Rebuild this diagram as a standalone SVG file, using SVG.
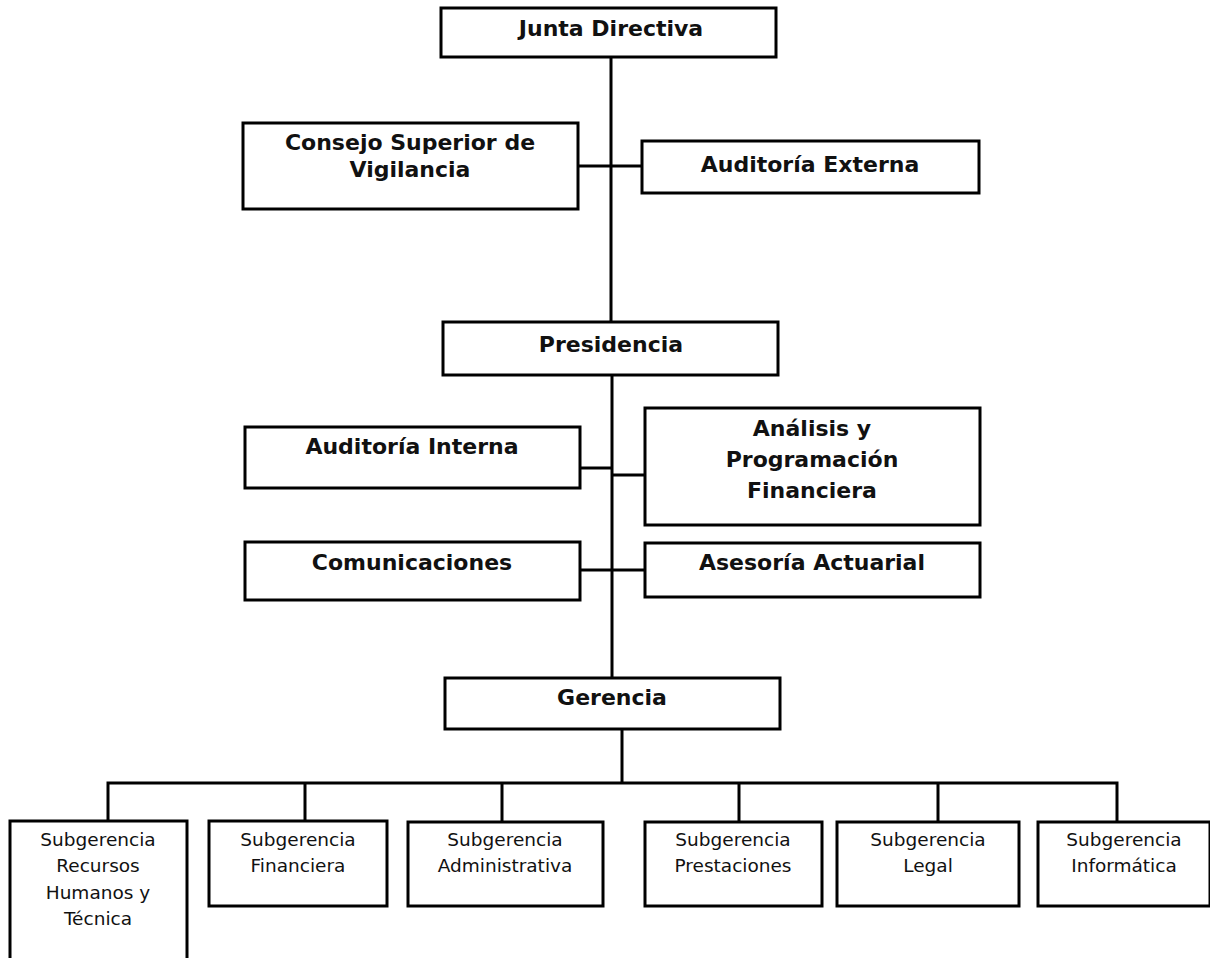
<svg xmlns="http://www.w3.org/2000/svg" width="1210" height="958" viewBox="0 0 1210 958">
<style>
.box{fill:#fff;stroke:#000;stroke-width:3}
.b{font-family:"DejaVu Sans","Verdana",sans-serif;font-weight:bold;font-size:22px;fill:#111;text-anchor:middle}
.r{font-family:"DejaVu Sans","Verdana",sans-serif;font-size:18.5px;fill:#111;text-anchor:middle}
.ln{fill:none;stroke:#000;stroke-width:3}
</style>
<rect width="1210" height="958" fill="#fff"/>
<g id="connectors">
<path class="ln" d="M611 57V322"/>
<path class="ln" d="M578 166H642"/>
<path class="ln" d="M612 375V678"/>
<path class="ln" d="M580 468H612"/>
<path class="ln" d="M612 475H645"/>
<path class="ln" d="M580 570H645"/>
<path class="ln" d="M622 729V783"/>
<path class="ln" d="M108 821V783H1117V821"/>
<path class="ln" d="M305 783V821M502 783V821M739 783V821M938 783V821"/>
</g>
<g id="junta"><rect class="box" x="441" y="8" width="335" height="49"/><text class="b" x="611" y="36">Junta Directiva</text></g>
<g id="consejo"><rect class="box" x="243" y="123" width="335" height="86"/><text class="b" x="410" y="150">Consejo Superior de</text><text class="b" x="410" y="177">Vigilancia</text></g>
<g id="auditoria-externa"><rect class="box" x="642" y="141" width="337" height="52"/><text class="b" x="810" y="172">Auditoría Externa</text></g>
<g id="presidencia"><rect class="box" x="443" y="322" width="335" height="53"/><text class="b" x="611" y="352">Presidencia</text></g>
<g id="auditoria-interna"><rect class="box" x="245" y="427" width="335" height="61"/><text class="b" x="412" y="454">Auditoría Interna</text></g>
<g id="analisis"><rect class="box" x="645" y="408" width="335" height="117"/><text class="b" x="812" y="436">Análisis y</text><text class="b" x="812" y="467">Programación</text><text class="b" x="812" y="498">Financiera</text></g>
<g id="comunicaciones"><rect class="box" x="245" y="542" width="335" height="58"/><text class="b" x="412" y="570">Comunicaciones</text></g>
<g id="asesoria"><rect class="box" x="645" y="543" width="335" height="54"/><text class="b" x="812" y="570">Asesoría Actuarial</text></g>
<g id="gerencia"><rect class="box" x="445" y="678" width="335" height="51"/><text class="b" x="612" y="705">Gerencia</text></g>
<g id="sg-rrhh"><rect class="box" x="10" y="821" width="177" height="150"/><text class="r" x="98" y="846">Subgerencia</text><text class="r" x="98" y="872">Recursos</text><text class="r" x="98" y="899">Humanos y</text><text class="r" x="98" y="925">Técnica</text></g>
<g id="sg-financiera"><rect class="box" x="209" y="821" width="178" height="85"/><text class="r" x="298" y="846">Subgerencia</text><text class="r" x="298" y="872">Financiera</text></g>
<g id="sg-administrativa"><rect class="box" x="408" y="822" width="195" height="84"/><text class="r" x="505" y="846">Subgerencia</text><text class="r" x="505" y="872">Administrativa</text></g>
<g id="sg-prestaciones"><rect class="box" x="645" y="822" width="177" height="84"/><text class="r" x="733" y="846">Subgerencia</text><text class="r" x="733" y="872">Prestaciones</text></g>
<g id="sg-legal"><rect class="box" x="837" y="822" width="182" height="84"/><text class="r" x="928" y="846">Subgerencia</text><text class="r" x="928" y="872">Legal</text></g>
<g id="sg-informatica"><rect class="box" x="1038" y="822" width="172" height="84"/><text class="r" x="1124" y="846">Subgerencia</text><text class="r" x="1124" y="872">Informática</text></g>
</svg>
